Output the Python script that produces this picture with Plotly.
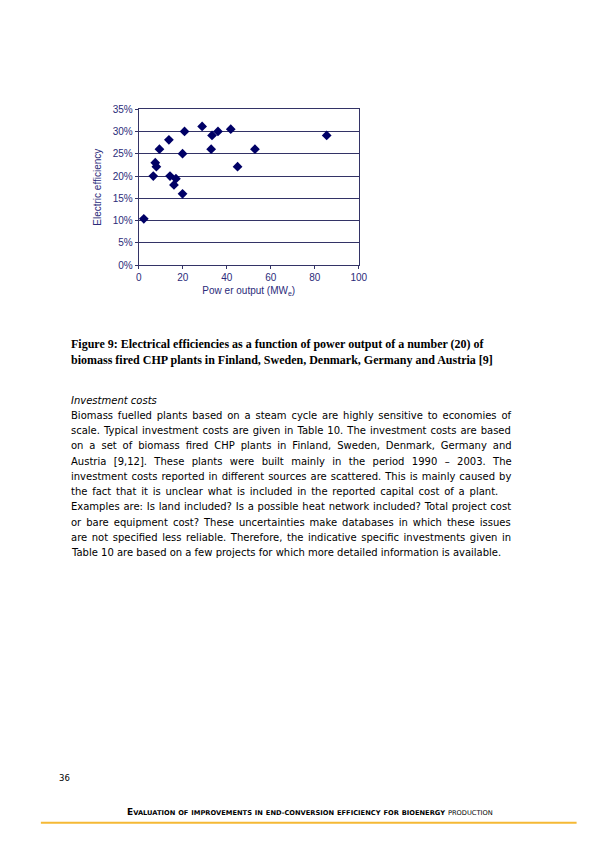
import plotly.graph_objects as go

# power output (MWe) and electric efficiency (%) of the 20 CHP plants
power_output = [2.3, 6.6, 7.5, 8.0, 9.4, 13.7, 14.2, 16.0, 16.9, 19.9,
                19.9, 20.8, 28.8, 32.9, 33.3, 36.0, 41.8, 44.9, 52.8, 85.4]
efficiency = [10.4, 20.0, 23.0, 22.1, 26.0, 28.1, 20.0, 18.0, 19.4, 16.0,
              25.0, 30.0, 31.1, 26.0, 29.1, 30.0, 30.5, 22.1, 26.0, 29.1]

x_ticks = [0, 20, 40, 60, 80, 100]
y_ticks = [0, 5, 10, 15, 20, 25, 30, 35]
y_tick_labels = [f'{v}%' for v in y_ticks]

caption_lines = [
    'Figure 9: Electrical efficiencies as a function of power output of a number (20) of',
    'biomass fired CHP plants in Finland, Sweden, Denmark, Germany and Austria [9]',
]
body_lines = [
    'Biomass fuelled plants based on a steam cycle are highly sensitive to economies of',
    'scale. Typical investment costs are given in Table 10. The investment costs are based',
    'on a set of biomass fired CHP plants in Finland, Sweden, Denmark, Germany and',
    'Austria [9,12]. These plants were built mainly in the period 1990 \u2013 2003. The',
    'investment costs reported in different sources are scattered. This is mainly caused by',
    'the fact that it is unclear what is included in the reported capital cost of a plant.',
    'Examples are: Is land included? Is a possible heat network included? Total project cost',
    'or bare equipment cost? These uncertainties make databases in which these issues',
    'are not specified less reliable. Therefore, the indicative specific investments given in',
    'Table 10 are based on a few projects for which more detailed information is available.',
]
footer_words = ['EVALUATION', 'OF', 'IMPROVEMENTS', 'IN', 'END-CONVERSION',
                'EFFICIENCY', 'FOR', 'BIOENERGY', 'PRODUCTION']

# extra word spacing (px) so the paragraph looks justified like the original
word_gap = [1.6, 0.85, 2.7, 4.15, 0.83, 1.6, 0.6, 1.8, 1.4, 0]

W, H = 595, 841
# the page has a body margin and gets shrunk a little when photographed,
# so page positions are mapped back to figure pixels
AX, SX = 10, 0.984
AY, SY = 13, 0.986
navy = '#333366'
text_navy = '#2b2b7a'


def px(x):
    return (x - AX) / SX / W


def py(y):
    return 1 - (y - AY) / SY / H


def page_text(text, x, y, size, family='DejaVu Sans', xanchor='left'):
    return dict(text=text, x=px(x), y=py(y), xref='paper', yref='paper',
                xanchor=xanchor, yanchor='middle', showarrow=False, borderpad=0,
                font=dict(family=family, size=size, color='black'))


fig = go.Figure()

# Scatter of plants
fig.add_trace(go.Scatter(x=power_output, y=efficiency, mode='markers',
                         marker=dict(symbol='diamond', size=7.5, color='#000066'),
                         showlegend=False))

annotations = []

# caption (bold serif)
for i, line in enumerate(caption_lines):
    annotations.append(page_text('<b>' + line + '</b>', 69, 344 + i * 15.5, 12,
                                 family='Liberation Serif'))

# section heading
annotations.append(page_text('<i>Investment costs</i>', 69, 400, 10))

# paragraph
for i, line in enumerate(body_lines):
    gap = word_gap[i] / SX
    txt = f'<span style="word-spacing:{gap:.2f}px">{line}</span>' if gap else line
    annotations.append(page_text(txt, 69, 415 + i * 15.25, 10))

# page number
annotations.append(page_text('36', 57, 777, 8.5))

# footer in small caps, bold except the last word
footer = ''
for w in footer_words:
    if w == 'EVALUATION':
        seg = 'E<span style="font-size:6.7px">VALUATION</span>'
    else:
        seg = '<span style="font-size:6.7px">' + w + '</span>'
    if w != 'PRODUCTION':
        seg = '<b>' + seg + '</b>'
    footer += seg + ' '
annotations.append(page_text(footer.strip(), 310, 811, 9, xanchor='center'))

fig.update_layout(
    width=W, height=H,
    margin=dict(l=0, r=0, t=0, b=0),
    paper_bgcolor='white', plot_bgcolor='white',
    xaxis=dict(domain=[px(138.3), px(359.3)], range=[0, 100], tickvals=x_ticks,
               showgrid=False, zeroline=False, showline=True, linecolor=navy, linewidth=1,
               mirror=True, ticks='outside', ticklen=3, tickcolor=navy,
               tickfont=dict(family='Liberation Sans', size=10, color=text_navy),
               title=dict(text='Pow er output (MW<sub>e</sub>)', standoff=4,
                          font=dict(family='Liberation Sans', size=10, color=text_navy))),
    yaxis=dict(domain=[py(265), py(109)], range=[0, 35], tickvals=y_ticks,
               ticktext=y_tick_labels, showgrid=True, gridcolor=navy, gridwidth=1,
               zeroline=False, showline=True, linecolor=navy, linewidth=1, mirror=True,
               ticks='outside', ticklen=3, tickcolor=navy,
               tickfont=dict(family='Liberation Sans', size=10, color=text_navy),
               title=dict(text='Electric efficiency', standoff=9,
                          font=dict(family='Liberation Sans', size=10, color=text_navy))),
    annotations=annotations,
    shapes=[dict(type='line', xref='paper', yref='paper', x0=px(40), x1=px(578),
                 y0=py(822), y1=py(822), line=dict(color='#f5b935', width=2))],
)

fig.write_html('out.html')
